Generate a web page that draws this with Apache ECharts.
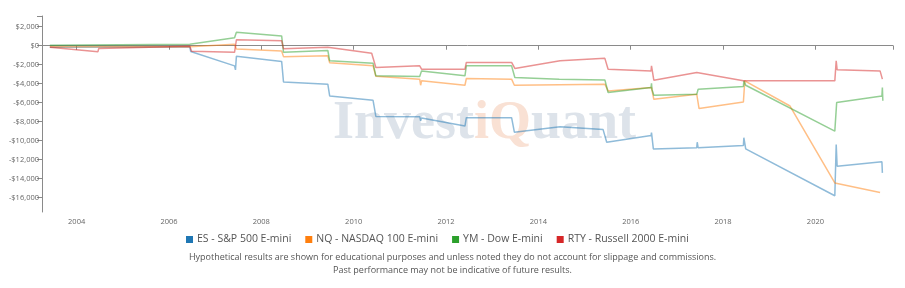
<!DOCTYPE html>
<html><head><meta charset="utf-8">
<script src="https://cdn.jsdelivr.net/npm/echarts@6/dist/echarts.min.js"></script>
<style>html,body{margin:0;padding:0;background:#fff}#c{width:905px;height:288px}</style>
</head><body><div id="c"></div>
<script>
// Series names and colours
const seriesNames = ['ES - S&P 500 E-mini', 'NQ - NASDAQ 100 E-mini', 'YM - Dow E-mini', 'RTY - Russell 2000 E-mini'];
const seriesColors = ['#1f77b4', '#ff7f0e', '#2ca02c', '#d62728'];

// [decimal year, cumulative P&L $]
const esData = [[2003.42,-150],[2006.45,-100],[2006.47,-600],[2007.42,-2120],[2007.44,-2540],[2007.46,-1120],[2008.44,-1650],[2008.48,-3810],[2009.44,-4050],[2009.48,-5290],[2010.42,-5750],[2010.48,-7450],[2011.43,-7470],[2011.45,-7900],[2011.47,-7600],[2012.41,-8460],[2012.44,-7580],[2013.42,-7580],[2013.48,-9100],[2014.47,-8530],[2015.40,-8810],[2015.48,-10160],[2016.44,-9450],[2016.45,-9160],[2016.49,-10870],[2017.43,-10750],[2017.44,-10160],[2017.46,-10750],[2018.44,-10510],[2018.45,-9690],[2018.49,-10870],[2020.42,-15800],[2020.45,-10400],[2020.47,-12700],[2021.44,-12230],[2021.45,-13390]];
const nqData = [[2003.42,-100],[2006.45,-100],[2007.42,150],[2007.46,-350],[2008.44,-550],[2008.48,-1150],[2009.44,-1050],[2009.48,-1800],[2010.42,-2120],[2010.48,-3210],[2011.43,-3520],[2011.45,-4160],[2011.47,-3700],[2012.41,-4160],[2012.44,-3450],[2013.42,-3520],[2013.48,-4160],[2015.44,-4050],[2015.51,-4760],[2016.45,-4400],[2016.50,-5640],[2017.43,-5110],[2017.48,-6620],[2018.44,-5920],[2018.47,-3700],[2019.45,-6350],[2020.42,-14450],[2021.40,-15450]];
const ymData = [[2003.42,50],[2006.45,150],[2007.42,850],[2007.46,1420],[2008.44,1030],[2008.48,-700],[2009.44,-500],[2009.48,-1590],[2010.42,-1850],[2010.48,-3170],[2011.43,-3240],[2011.47,-2650],[2012.41,-3170],[2012.44,-2120],[2013.42,-2120],[2013.49,-3340],[2014.45,-3520],[2014.48,-3360],[2015.44,-3600],[2015.51,-4930],[2016.44,-4400],[2016.45,-3950],[2016.46,-4600],[2016.50,-5220],[2017.43,-5110],[2017.46,-4580],[2018.44,-4300],[2018.45,-3700],[2018.49,-4160],[2020.42,-8990],[2020.46,-5990],[2021.44,-5290],[2021.45,-4400],[2021.46,-5800]];
const rtyData = [[2003.42,-170],[2004.46,-630],[2004.48,-280],[2006.45,-50],[2006.49,-580],[2007.42,-700],[2007.46,630],[2008.44,530],[2008.48,-310],[2009.44,-170],[2009.48,0],[2010.39,-790],[2010.48,-2290],[2011.43,-2120],[2011.47,-2470],[2012.41,-2470],[2012.44,-1760],[2013.42,-1760],[2013.49,-2390],[2014.47,-1590],[2015.44,-1330],[2015.51,-2470],[2016.44,-2650],[2016.45,-2120],[2016.50,-3630],[2017.43,-2810],[2018.44,-3700],[2018.47,-3520],[2020.42,-3700],[2020.45,-1590],[2020.47,-2540],[2021.40,-2650],[2021.45,-3520]];

// Axis ticks / extents
const xTickYears = [2004, 2006, 2008, 2010, 2012, 2014, 2016, 2018, 2020];
const xExtent = [2003.25, 2021.68];
const yTickValues = [-16000, -14000, -12000, -10000, -8000, -6000, -4000, -2000, 0, 2000];
const yExtent = [-17510, 3130];

const footnotes = ['Hypothetical results are shown for educational purposes and unless noted they do not account for slippage and commissions.',
                   'Past performance may not be indicative of future results.'];

const allData = [esData, nqData, ymData, rtyData];
const axisGrey = '#8a8a8a';
const labelFont = 'Open Sans';

function money(v) {
  const a = Math.abs(v).toLocaleString('en-US');
  return (v < 0 ? '-' : '') + '$' + a;
}

const chart = echarts.init(document.getElementById('c'));
chart.setOption({
  animation: false,
  grid: { left: 42, right: 12, top: 16, bottom: 76 },
  xAxis: {
    type: 'value', min: xExtent[0], max: xExtent[1],
    splitLine: { show: false },
    axisLine: { lineStyle: { color: axisGrey, width: 1 } },
    axisTick: { show: true, length: 4, lineStyle: { color: axisGrey }, customValues: xTickYears.concat([xExtent[1]]) },
    axisLabel: { customValues: xTickYears, formatter: v => String(Math.round(v)), fontSize: 7.5, color: '#666', fontFamily: labelFont, margin: 6 }
  },
  yAxis: {
    type: 'value', min: yExtent[0], max: yExtent[1],
    splitLine: { show: false },
    axisLine: { show: true, lineStyle: { color: axisGrey, width: 1 } },
    axisTick: { show: true, length: 5, lineStyle: { color: axisGrey }, customValues: yTickValues.concat([yExtent[1]]) },
    axisLabel: { customValues: yTickValues, formatter: money, fontSize: 7.5, color: '#666', fontFamily: labelFont, margin: 3 }
  },
  legend: {
    top: 234, left: 186, icon: 'rect', itemWidth: 7, itemHeight: 7, itemGap: 14, padding: 0,
    textStyle: { fontSize: 10.5, color: '#555', fontFamily: labelFont, padding: [0, 0, 0, -1] },
    data: seriesNames
  },
  graphic: [
    { type: 'text', x: 333, y: 97, z: 0, silent: true,
      style: { text: '{a|Invest}{b|iQ}{a|uant}', verticalAlign: 'top',
        rich: {
          a: { fontFamily: 'Liberation Serif', fontWeight: 'bold', fontSize: 54, fill: '#dde3ea', color: '#dde3ea' },
          b: { fontFamily: 'Liberation Serif', fontWeight: 'bold', fontSize: 54, fill: '#f9e1d4', color: '#f9e1d4' }
        } } },
    { type: 'text', left: 'center', top: 253, style: { text: footnotes[0], fontSize: 9, fill: '#555', fontFamily: labelFont } },
    { type: 'text', left: 'center', top: 266, style: { text: footnotes[1], fontSize: 9, fill: '#555', fontFamily: labelFont } }
  ],
  series: seriesNames.map((n, i) => ({
    name: n, type: 'line', data: allData[i], showSymbol: false, z: 3,
    color: seriesColors[i],
    lineStyle: { width: 1.5, opacity: 0.5 }
  }))
});
</script></body></html>
